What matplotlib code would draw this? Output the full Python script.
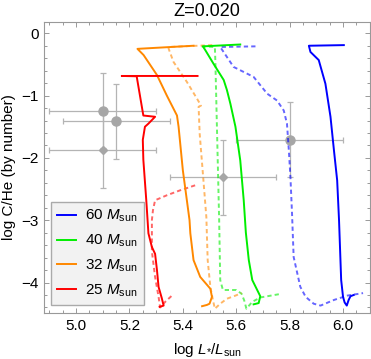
import matplotlib
matplotlib.use("Agg")
import matplotlib.pyplot as plt
from matplotlib.ticker import MultipleLocator

plt.rcParams['font.family'] = ['Liberation Sans', 'DejaVu Sans']
plt.rcParams['mathtext.fontset'] = 'custom'
plt.rcParams['mathtext.rm'] = 'Liberation Sans'
plt.rcParams['mathtext.it'] = 'Liberation Sans:italic'

# model tracks: log L vs log C/He (solid and dashed variants)
m60_x = [6.003, 5.872, 5.878, 5.909, 5.934, 5.953, 5.966, 5.978, 5.985, 5.993, 6.000, 6.006, 6.014, 6.021, 6.028, 6.040]
m60_y = [-0.19, -0.20, -0.30, -0.43, -0.81, -1.34, -1.88, -2.36, -3.00, -3.96, -4.23, -4.32, -4.37, -4.28, -4.22, -4.20]
m60d_x = [5.672, 5.540, 5.590, 5.665, 5.716, 5.753, 5.778, 5.790, 5.797, 5.803, 5.809, 5.815, 5.840, 5.860, 5.890, 5.916, 5.966, 6.016, 6.075]
m60d_y = [-0.21, -0.22, -0.54, -0.70, -0.97, -1.08, -1.24, -1.45, -1.88, -2.31, -2.90, -3.59, -4.07, -4.23, -4.34, -4.37, -4.28, -4.21, -4.17]

m40_x = [5.615, 5.475, 5.484, 5.515, 5.553, 5.565, 5.578, 5.597, 5.615, 5.628, 5.636, 5.647, 5.660, 5.690, 5.684, 5.665]
m40_y = [-0.18, -0.21, -0.27, -0.49, -0.75, -0.91, -1.13, -1.50, -2.04, -2.68, -3.20, -3.64, -3.96, -4.22, -4.33, -4.35]
m40d_x = [5.470, 5.520, 5.522, 5.530, 5.536, 5.540, 5.550, 5.600, 5.620, 5.630, 5.638, 5.660, 5.690, 5.770]
m40d_y = [-0.21, -0.22, -0.49, -1.93, -3.00, -3.96, -4.12, -4.12, -4.18, -4.29, -4.42, -4.31, -4.24, -4.18]

m32_x = [5.440, 5.230, 5.253, 5.303, 5.340, 5.378, 5.384, 5.400, 5.415, 5.425, 5.428, 5.440, 5.465, 5.503, 5.509, 5.500, 5.490, 5.472]
m32_y = [-0.20, -0.25, -0.35, -0.67, -1.00, -1.32, -1.50, -2.20, -2.68, -3.00, -3.21, -3.64, -3.91, -4.10, -4.23, -4.34, -4.36, -4.38]
m32d_x = [5.510, 5.346, 5.347, 5.365, 5.415, 5.453, 5.468, 5.459, 5.463, 5.478, 5.488, 5.493, 5.503, 5.513, 5.520, 5.540, 5.565, 5.597, 5.620]
m32d_y = [-0.19, -0.22, -0.25, -0.46, -0.78, -1.05, -1.16, -1.18, -1.61, -2.41, -2.95, -3.64, -4.07, -4.29, -4.42, -4.34, -4.26, -4.21, -4.17]

m25_x = [5.455, 5.171, 5.227, 5.252, 5.296, 5.271, 5.258, 5.250, 5.252, 5.263, 5.271, 5.284, 5.296, 5.303, 5.309, 5.321, 5.328, 5.313]
m25_y = [-0.685, -0.685, -0.69, -1.32, -1.34, -1.45, -1.50, -1.71, -2.03, -2.68, -3.21, -3.43, -3.54, -3.80, -4.07, -4.25, -4.37, -4.39]
m25d_x = [5.446, 5.390, 5.340, 5.296, 5.288, 5.284, 5.284, 5.296, 5.309, 5.315, 5.334, 5.359]
m25d_y = [-2.44, -2.52, -2.60, -2.68, -2.84, -3.00, -3.50, -3.91, -4.23, -4.40, -4.31, -4.21]

# observed stars
circ_x = [5.10, 5.15, 5.80]
circ_y = [-1.24, -1.41, -1.71]
diam_x = [5.10, 5.55]
diam_y = [-1.88, -2.31]
lum_err = 0.2
ch_err = 0.6

labels = ['60', '40', '32', '25']

fig = plt.figure(figsize=(3.71, 3.59), dpi=100)
ax = fig.add_axes([0.1194, 0.1273, 0.8779, 0.8123])

ebar = '#b4b4b4'
ax.errorbar(circ_x, circ_y, xerr=lum_err, yerr=ch_err, fmt='o', ms=6.5,
            color='#a6a6a6', ecolor=ebar, elinewidth=0.9, capsize=2.2, capthick=0.9, zorder=1)
ax.errorbar(diam_x, diam_y, xerr=lum_err, yerr=ch_err, fmt='D', ms=4.2,
            color='#a6a6a6', ecolor=ebar, elinewidth=0.9, capsize=2.2, capthick=0.9, zorder=1)

tracks = [
    (m60_x, m60_y, m60d_x, m60d_y, '#0000ff'),
    (m40_x, m40_y, m40d_x, m40d_y, '#00ee00'),
    (m32_x, m32_y, m32d_x, m32d_y, '#ff8800'),
    (m25_x, m25_y, m25d_x, m25d_y, '#ff0000'),
]
for (sx, sy, dx, dy, c), lab in zip(tracks, labels):
    ax.plot(dx, dy, color=c, alpha=0.6, lw=1.4, dashes=(2.2, 1.6), zorder=2)
    ax.plot(sx, sy, color=c, lw=1.4, zorder=3, label=lab + r' $M_{\mathrm{sun}}$')

ax.set_xlim(4.881, 6.101)
ax.set_ylim(-4.494, 0.186)
ax.xaxis.set_major_locator(MultipleLocator(0.2))
ax.xaxis.set_minor_locator(MultipleLocator(0.05))
ax.yaxis.set_major_locator(MultipleLocator(1))
ax.yaxis.set_minor_locator(MultipleLocator(0.2))
ax.xaxis.set_major_formatter(plt.FuncFormatter(lambda v, p: f'{v:.1f}'))
ax.yaxis.set_major_formatter(plt.FuncFormatter(lambda v, p: f'{v:.0f}'.replace('-', '\u2212')))

for s in ax.spines.values():
    s.set_color('#999999')
    s.set_linewidth(0.8)
ax.tick_params(which='both', direction='in', top=True, right=True, color='#999999',
               labelsize=11, width=0.7)
ax.tick_params(which='major', length=3.5, pad=4)
ax.tick_params(which='minor', length=2)

ax.set_title('Z=0.020', fontsize=13, pad=4)
ax.set_xlabel(r'log $L_{*}/L_{\mathrm{sun}}$', fontsize=11, labelpad=6)
ax.set_ylabel('log C/He (by number)', fontsize=11)
ax.yaxis.set_label_coords(-0.088, 0.5)

leg = ax.legend(loc='lower left', bbox_to_anchor=(0.0197, 0.0285), borderaxespad=0,
                fontsize=11, handlelength=1.25, handletextpad=0.6, labelspacing=0.55,
                borderpad=0.4, fancybox=False, framealpha=1)
leg.get_frame().set_facecolor('#f2f2f2')
leg.get_frame().set_edgecolor('#aaaaaa')

plt.savefig('out.png', dpi=100)
